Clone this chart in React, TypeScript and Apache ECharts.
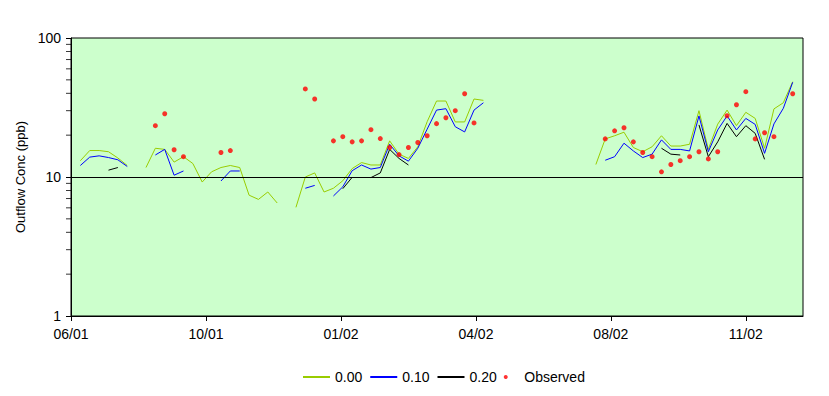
import React, { useEffect, useRef } from "react";
import * as echarts from "echarts";

// week index (x position)
const weeks: number[] = Array.from({ length: 78 }, (_, i) => i);

const tickLabels = ["06/01", "10/01", "01/02", "04/02", "08/02", "11/02"];
const tickStep = 14.4; // weeks between labelled ticks

const n = null;
// 0.00 series
const s000: (number | null)[] = [
  n, 13.1, 15.5, 15.5, 15.2, 13.7, 12.1, n,
  11.7, 16.1, 15.8, 12.8, 14.0, 12.5, 9.2, 10.9, 11.7, 12.1, 11.7, 7.4, 6.9, 7.8, 6.5, n,
  6.05, 10.0, 10.7, 7.8, 8.3, 9.4, 11.5, 12.7, 12.2, 12.2, 18.2, 14.6, 13.6, 16.5, 25.0, 35.2, 35.2, 24.9, 24.9, 36.4, 35.6,
  n, n, n, n, n, n, n, n, n, n, n,
  12.3, 18.8, 19.8, 21.0, 16.3, 15.2, 16.5, 19.8, 16.7, 16.7, 17.2, 30.0, 15.8, 24.0, 30.3, 23.4, 29.2, 26.4, 16.1, 30.9, 34.2, 48.5,
];
// 0.10 series
const s010: (number | null)[] = [
  n, 12.1, 13.9, 14.2, 13.8, 13.3, 11.9, n,
  n, 14.4, 15.8, 10.3, 11.05, n, n, n, 9.36, 11.05, 11.05, n, n, n, n, n,
  n, 8.3, 8.7, n, 7.3, 8.5, 11.1, 12.2, 11.4, 11.7, 17.2, 14.2, 13.0, 16.1, 22.1, 30.3, 31.0, 23.0, 21.1, 30.3, 34.2,
  n, n, n, n, n, n, n, n, n, n, n,
  n, 13.2, 14.0, 17.5, 15.4, 13.8, 14.6, 18.5, 15.8, 15.8, 15.4, 27.5, 15.2, 21.8, 27.5, 21.8, 26.4, 23.9, 14.8, 24.1, 31.2, 48.0,
];
// 0.20 series
const s020: (number | null)[] = [
  n, n, n, n, 11.2, 11.7, n, n,
  n, n, n, n, n, n, n, n, n, n, n, n, n, n, n, n,
  n, n, n, n, n, 8.24, 9.95, n, 9.9, 10.7, 15.8, 13.6, 12.2, n, n, n, n, n, n, n, n,
  n, n, n, n, n, n, n, n, n, n, n,
  n, n, n, n, n, n, n, 16.1, 14.6, 14.4, n, 23.7, 14.0, 17.9, 24.3, 19.5, 23.4, 20.6, 13.4, n, n, n,
];
// observed
const observed: (number | null)[] = [
  n, n, n, n, n, n, n, n,
  n, 23.4, 28.5, 15.7, 14.0, n, n, n, 15.0, 15.5, n, n, n, n, n, n,
  n, 43.0, 36.4, n, 18.2, 19.5, 17.9, 18.2, 21.9, 18.9, 16.3, 14.5, 16.3, 17.7, 19.8, 24.2, 26.7, 30.0, 39.7, 24.5, n,
  n, n, n, n, n, n, n, n, n, n, n,
  n, 18.8, 21.5, 22.6, 17.9, 15.0, 14.0, 10.9, 12.3, 13.1, 14.0, 15.2, 13.5, 15.2, 27.6, 33.1, 41.1, 18.8, 20.8, 19.5, n, 39.7,
];

// minor tick values on the log axis
const yMinorTicks = [2, 3, 4, 5, 6, 7, 8, 9, 20, 30, 40, 50, 60, 70, 80, 90];

const pair = (arr: (number | null)[]) => weeks.map((w, i) => [w, arr[i]]);

export default function App() {
  const ref = useRef<HTMLDivElement>(null);
  useEffect(() => {
    if (!ref.current) return;
    const chart = echarts.init(ref.current, null, { renderer: "svg" });
    const font = "'Liberation Sans', Arial, sans-serif";
    chart.setOption({
      animation: false,
      textStyle: { fontFamily: font },
      grid: {
        left: 71,
        right: 26,
        top: 38,
        bottom: 80,
        show: true,
        backgroundColor: "#ccffcc",
        borderColor: "#000",
        borderWidth: 1,
      },
      legend: {
        left: 297,
        top: 365,
        itemWidth: 27,
        itemHeight: 4,
        itemGap: 7,
        textStyle: { fontSize: 14, color: "#000", fontFamily: font },
        data: [
          { name: "0.00", itemStyle: { opacity: 0 } },
          { name: "0.10", itemStyle: { opacity: 0 } },
          { name: "0.20", itemStyle: { opacity: 0 } },
          { name: "Observed", icon: "circle" },
        ],
      },
      xAxis: {
        type: "value",
        min: 0,
        max: 78.1,
        interval: tickStep,
        splitLine: { show: false },
        axisLine: { show: true, lineStyle: { color: "#000", width: 1 } },
        axisTick: { show: true, length: 5, lineStyle: { color: "#000" } },
        axisLabel: {
          show: true,
          showMaxLabel: false,
          margin: 11,
          fontSize: 14,
          color: "#000",
          fontFamily: font,
          formatter: (v: number) => {
            const k = v / tickStep;
            if (Math.abs(k - Math.round(k)) > 0.01) return "";
            return tickLabels[Math.round(k)] ?? "";
          },
        },
      },
      yAxis: {
        type: "log",
        logBase: 10,
        min: 1,
        max: 100,
        name: "Outflow Conc (ppb)",
        nameLocation: "middle",
        nameGap: 43,
        nameTextStyle: { fontSize: 13, color: "#000", fontFamily: font },
        splitLine: { show: false },
        axisLine: { show: true, lineStyle: { color: "#000", width: 1 } },
        axisTick: { show: true, length: 5, lineStyle: { color: "#000" } },
        axisLabel: { margin: 10, fontSize: 14, color: "#000", fontFamily: font },
      },
      series: [
        {
          name: "0.00",
          type: "line",
          data: pair(s000),
          symbol: "none",
          lineStyle: { color: "#99cc00", width: 1 },
          itemStyle: { color: "#99cc00" },
          markLine: {
            silent: true,
            symbol: "none",
            label: { show: false },
            lineStyle: { color: "#000", width: 1, type: "solid" },
            data: [{ yAxis: 10 }],
          },
        },
        {
          name: "0.10",
          type: "line",
          data: pair(s010),
          symbol: "none",
          lineStyle: { color: "#0000ff", width: 1 },
          itemStyle: { color: "#0000ff" },
        },
        {
          name: "0.20",
          type: "line",
          data: pair(s020),
          symbol: "none",
          lineStyle: { color: "#000000", width: 1 },
          itemStyle: { color: "#000000" },
        },
        {
          name: "Observed",
          type: "scatter",
          data: pair(observed).filter((p) => p[1] !== null),
          symbol: "circle",
          symbolSize: 5,
          itemStyle: { color: "#ff0000" },
          z: 5,
        },
        {
          name: "yMinorTicks",
          type: "scatter",
          silent: true,
          clip: false,
          z: 20,
          data: yMinorTicks.map((v) => [0, v]),
          symbol: "rect",
          symbolSize: [5, 1],
          symbolOffset: [-2.5, 0],
          itemStyle: { color: "#000" },
        },
      ],
    });

    return () => chart.dispose();
  }, []);
  return (
    <div
      ref={ref}
      style={{ position: "fixed", left: 0, top: 0, width: 829, height: 396, background: "#fff" }}
    />
  );
}
